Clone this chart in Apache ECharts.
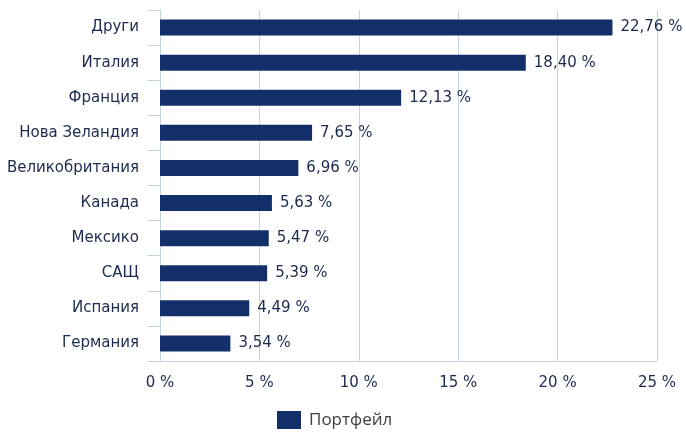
<!DOCTYPE html>
<html>
<head>
<meta charset="utf-8">
<script src="https://cdn.jsdelivr.net/npm/echarts@6/dist/echarts.min.js"></script>
<style>
  html, body { margin: 0; padding: 0; background: #fff; }
  #chart { width: 686px; height: 432px; }
</style>
</head>
<body>
<div id="chart"></div>
<script>
// категории (отгоре надолу)
var countries = ['Други', 'Италия', 'Франция', 'Нова Зеландия', 'Великобритания', 'Канада', 'Мексико', 'САЩ', 'Испания', 'Германия'];
var portfolio = [22.76, 18.40, 12.13, 7.65, 6.96, 5.63, 5.47, 5.39, 4.49, 3.54];
var xTicks = [0, 5, 10, 15, 20, 25];

var textColor = '#1b2a4e';
var lineColor = '#c6d3e7';
var barColor = '#132f69';

var myChart = echarts.init(document.getElementById('chart'));
var option = {
    animation: false,
    textStyle: { fontFamily: 'DejaVu Sans' },
    legend: {
        top: 406,
        left: 272,
        itemWidth: 24,
        itemHeight: 18,
        icon: 'rect',
        textStyle: {
            color: '#404040',
            fontSize: 17,
            lineHeight: 18,
            fontFamily: 'Open Sans',
            padding: [0, 0, 0, 3]
        },
        data: ['Портфейл']
    },
    grid: {
        left: 160,
        right: 29,
        top: 10,
        bottom: 71
    },
    xAxis: {
        type: 'value',
        min: xTicks[0],
        max: xTicks[xTicks.length - 1],
        interval: 5,
        axisLine: { show: true, lineStyle: { color: lineColor, width: 1 } },
        axisTick: { show: false },
        splitLine: { show: true, lineStyle: { color: lineColor, width: 1 } },
        axisLabel: {
            color: textColor,
            fontSize: 15,
            margin: 15,
            formatter: function (v) { return v + ' %'; }
        }
    },
    yAxis: {
        type: 'category',
        inverse: true,
        data: countries,
        axisLine: { show: true, lineStyle: { color: lineColor, width: 1 } },
        axisTick: { show: true, length: 13, lineStyle: { color: lineColor } },
        axisLabel: { color: textColor, fontSize: 15, margin: 21 }
    },
    series: [{
        name: 'Портфейл',
        type: 'bar',
        data: portfolio,
        barWidth: 16,
        itemStyle: { color: barColor },
        label: {
            show: true,
            position: 'right',
            distance: 8,
            color: textColor,
            fontSize: 15,
            formatter: function (p) { return p.value.toFixed(2).replace('.', ',') + ' %'; }
        }
    }]
};
myChart.setOption(option);
</script>
</body>
</html>
